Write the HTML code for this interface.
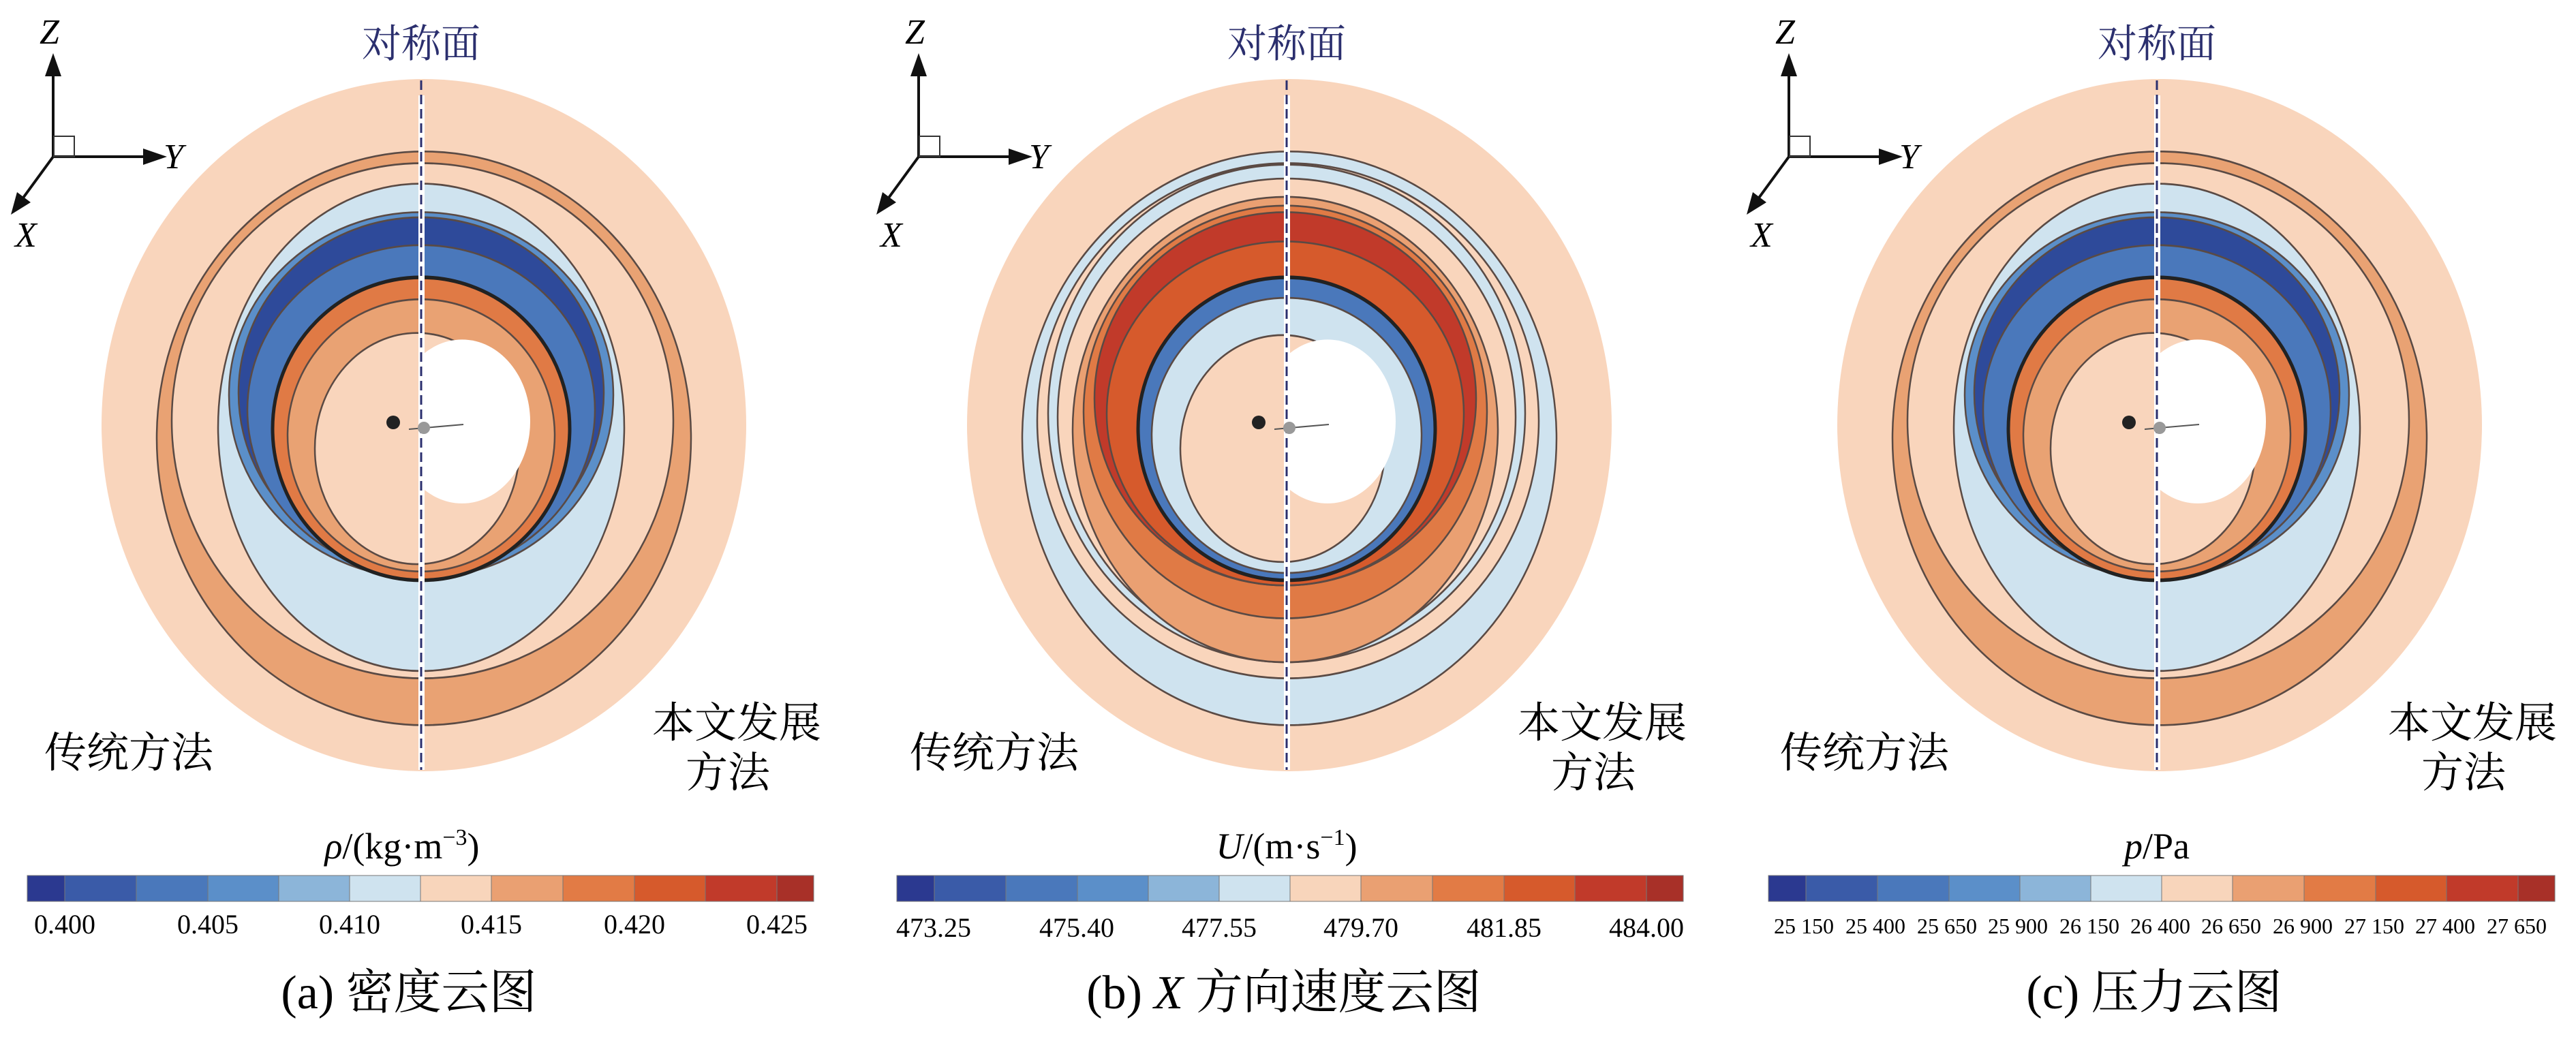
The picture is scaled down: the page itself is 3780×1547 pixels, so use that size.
<!DOCTYPE html>
<html><head><meta charset="utf-8"><style>
html,body{margin:0;padding:0;background:#fff}
svg{display:block}
.cn{font-family:"Liberation Serif","Noto Serif CJK SC",serif}
.num{font-family:"Liberation Serif",serif}
</style></head><body>
<svg width="3780" height="1547" viewBox="0 0 3780 1547" xmlns="http://www.w3.org/2000/svg">
<defs>
<clipPath id="rh"><rect x="622" y="0" width="600" height="1547"/></clipPath>
<g id="axes">
<line x1="78" y1="230" x2="78" y2="100" stroke="#111" stroke-width="4"/>
<path d="M66,112 L78,78 L90,112 z" fill="#111"/>
<line x1="78" y1="230" x2="220" y2="230" stroke="#111" stroke-width="4"/>
<path d="M210,218 L245,230 L210,242 z" fill="#111"/>
<line x1="78" y1="230" x2="32" y2="293" stroke="#111" stroke-width="4"/>
<path d="M45,297 L16,315 L25,282 z" fill="#111"/>
<rect x="79" y="200" width="30" height="30" fill="none" stroke="#333" stroke-width="2"/>
<text x="58" y="64" class="num" font-size="52" font-style="italic">Z</text>
<text x="240" y="247" class="num" font-size="52" font-style="italic">Y</text>
<text x="22" y="362" class="num" font-size="52" font-style="italic">X</text>
</g>
<g id="labels">
<text x="618" y="84" class="cn" font-size="58" fill="#2b2f6e" text-anchor="middle">对称面</text>
<text x="65" y="1126" class="cn" font-size="62">传统方法</text>
<text x="1205" y="1082" class="cn" font-size="62" text-anchor="end">本文发展</text>
<text x="1068" y="1155" class="cn" font-size="62" text-anchor="middle">方法</text>
</g>
<g id="bar">
<g stroke="#777" stroke-width="1">
<rect x="40" y="1285" width="55" height="38" fill="#2b3990"/>
<rect x="95" y="1285" width="105" height="38" fill="#3a5ba8"/>
<rect x="200" y="1285" width="105" height="38" fill="#4a78bb"/>
<rect x="305" y="1285" width="104" height="38" fill="#5b8fc9"/>
<rect x="409" y="1285" width="104" height="38" fill="#8cb5d9"/>
<rect x="513" y="1285" width="104" height="38" fill="#cfe3ef"/>
<rect x="617" y="1285" width="104" height="38" fill="#f8d5bb"/>
<rect x="721" y="1285" width="105" height="38" fill="#eaa072"/>
<rect x="826" y="1285" width="105" height="38" fill="#e27b45"/>
<rect x="931" y="1285" width="104" height="38" fill="#d65a2c"/>
<rect x="1035" y="1285" width="105" height="38" fill="#c13a2a"/>
<rect x="1140" y="1285" width="54" height="38" fill="#a83028"/>
</g>
</g>
<g id="contA">
<g stroke="#5a4a44" stroke-width="2.5" transform="translate(0,624) scale(1,1.074) translate(0,-616)">
<circle cx="622" cy="616" r="473" fill="#f9d5bc" stroke="none"/>
<circle cx="622" cy="634" r="392" fill="#e9a273"/>
<ellipse cx="620" cy="610" rx="368" ry="352" fill="#f9d5bc"/>
<ellipse cx="618" cy="619" rx="298" ry="333" fill="#cfe3ef"/>
<ellipse cx="618" cy="575" rx="282" ry="250" fill="#5b8fc9"/>
<ellipse cx="618" cy="572" rx="268" ry="240" fill="#2e4a9a"/>
<ellipse cx="618" cy="595" rx="255" ry="225" fill="#4a78bb"/>
<ellipse cx="618" cy="621" rx="218" ry="207" fill="#e07a45" stroke="#222" stroke-width="5"/>
<ellipse cx="618" cy="630" rx="196" ry="186" fill="#e9a273"/>
<ellipse cx="612" cy="648" rx="150" ry="158" fill="#f9d5bc"/>
<ellipse cx="678" cy="611" rx="100" ry="112" fill="#fff" stroke="none" clip-path="url(#rh)"/>
</g>
</g>
<g id="contB">
<g stroke="#5a4a44" stroke-width="2.5" transform="translate(0,624) scale(1,1.074) translate(0,-616)">
<circle cx="622" cy="616" r="473" fill="#f9d5bc" stroke="none"/>
<circle cx="622" cy="634" r="392" fill="#cfe3ef"/>
<ellipse cx="620" cy="610" rx="368" ry="352" fill="#f9d5bc"/>
<ellipse cx="618" cy="600" rx="350" ry="340" fill="#cfe3ef"/>
<ellipse cx="618" cy="605" rx="336" ry="326" fill="#f9d5bc"/>
<ellipse cx="616" cy="622" rx="312" ry="318" fill="#eaa072"/>
<ellipse cx="616" cy="598" rx="296" ry="282" fill="#e07a45"/>
<ellipse cx="616" cy="580" rx="280" ry="255" fill="#c13a2a"/>
<ellipse cx="616" cy="600" rx="262" ry="235" fill="#d65a2c"/>
<ellipse cx="618" cy="621" rx="218" ry="207" fill="#4a78bb" stroke="#222" stroke-width="5"/>
<ellipse cx="618" cy="630" rx="198" ry="188" fill="#cfe3ef"/>
<ellipse cx="612" cy="648" rx="150" ry="155" fill="#f9d5bc"/>
<ellipse cx="678" cy="611" rx="100" ry="112" fill="#fff" stroke="none" clip-path="url(#rh)"/>
</g>
</g>
<g id="mid">
<rect x="614" y="140" width="9" height="990" fill="#fff"/>
<line x1="618" y1="118" x2="618" y2="1130" stroke="#2b2f6e" stroke-width="3" stroke-dasharray="14,7"/>
<circle cx="577" cy="620" r="10" fill="#222"/>
<line x1="600" y1="630" x2="680" y2="623" stroke="#555" stroke-width="2"/>
<circle cx="622" cy="628" r="9" fill="#999"/>
</g>
</defs>

<!-- Panel a -->
<g>
<use href="#contA"/><use href="#mid"/><use href="#axes"/><use href="#labels"/><use href="#bar"/>
<text x="590" y="1260" class="num" font-size="54" text-anchor="middle"><tspan font-style="italic">ρ</tspan>/(kg·m<tspan font-size="34" dy="-20">−3</tspan><tspan dy="20">)</tspan></text>
<g class="num" font-size="40" text-anchor="middle">
<text x="95" y="1370">0.400</text><text x="305" y="1370">0.405</text><text x="513" y="1370">0.410</text>
<text x="721" y="1370">0.415</text><text x="931" y="1370">0.420</text><text x="1140" y="1370">0.425</text>
</g>
<text x="600" y="1480" class="cn" font-size="70" text-anchor="middle">(a) 密度云图</text>
</g>

<!-- Panel b -->
<g transform="translate(1270,0)">
<use href="#contB"/><use href="#mid"/><use href="#axes"/><use href="#labels"/>
<g transform="translate(6,0)"><use href="#bar"/></g>
<text x="618" y="1260" class="num" font-size="54" text-anchor="middle"><tspan font-style="italic">U</tspan>/(m·s<tspan font-size="34" dy="-20">−1</tspan><tspan dy="20">)</tspan></text>
<g class="num" font-size="40" text-anchor="middle">
<text x="100" y="1375">473.25</text><text x="310" y="1375">475.40</text><text x="519" y="1375">477.55</text>
<text x="727" y="1375">479.70</text><text x="937" y="1375">481.85</text><text x="1146" y="1375">484.00</text>
</g>
<text x="614" y="1480" class="cn" font-size="70" text-anchor="middle">(b) <tspan font-style="italic">X</tspan> 方向速度云图</text>
</g>

<!-- Panel c -->
<g transform="translate(2547,0)">
<use href="#contA"/><use href="#mid"/><use href="#axes"/><use href="#labels"/>
<g transform="translate(8,0)"><use href="#bar"/></g>
<text x="618" y="1260" class="num" font-size="54" text-anchor="middle"><tspan font-style="italic">p</tspan>/Pa</text>
<g class="num" font-size="32" text-anchor="middle">
<text x="100" y="1370">25 150</text><text x="205" y="1370">25 400</text><text x="310" y="1370">25 650</text>
<text x="414" y="1370">25 900</text><text x="519" y="1370">26 150</text><text x="623" y="1370">26 400</text>
<text x="727" y="1370">26 650</text><text x="832" y="1370">26 900</text><text x="937" y="1370">27 150</text>
<text x="1041" y="1370">27 400</text><text x="1146" y="1370">27 650</text>
</g>
<text x="614" y="1480" class="cn" font-size="70" text-anchor="middle">(c) 压力云图</text>
</g>
</svg>
</body></html>
